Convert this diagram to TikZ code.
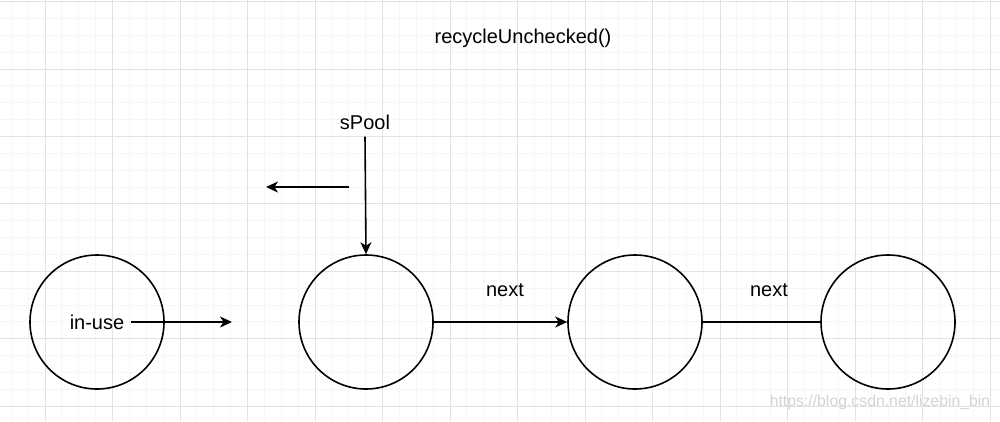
\documentclass[tikz,border=0pt]{standalone}
\usepackage{fontspec}
\setmainfont{Liberation Sans}
\usetikzlibrary{arrows.meta}
\definecolor{minorgrid}{HTML}{F6F6F6}
\definecolor{majorgrid}{HTML}{E2E2E2}
\definecolor{wmark}{HTML}{D4D4D4}
\tikzset{
  listnode/.style={draw=black, line width=1.6pt, circle, minimum size=134pt, inner sep=0pt},
  lbl/.style={inner sep=3pt, font=\fontsize{20}{24}\selectfont},
  conn/.style={line width=1.6pt},
  arr/.style={conn, -{Stealth[length=12pt, width=11pt, inset=3.5pt]}},
}
\begin{document}
\begin{tikzpicture}[x=1pt, y=-1pt]
\useasboundingbox (0,0) rectangle (1000,421);
\fill[white] (0,0) rectangle (1000,421);
% grid
\foreach \k in {-2,...,57} {
  \draw[minorgrid, line width=0.8pt] ({45+16.875*\k},0) -- ({45+16.875*\k},421);
}
\foreach \k in {0,...,25} {
  \draw[minorgrid, line width=0.8pt] (0,{1.6+16.85*\k}) -- (1000,{1.6+16.85*\k});
}
\foreach \k in {0,...,14} {
  \draw[majorgrid, line width=1pt] ({45+67.5*\k},0) -- ({45+67.5*\k},421);
}
\foreach \k in {0,...,6} {
  \draw[majorgrid, line width=1pt] (0,{1.6+67.4*\k}) -- (1000,{1.6+67.4*\k});
}
% title
\node[lbl] (title) at (523,38) {recycleUnchecked()};
% circles
\node[listnode] (c1) at (97,322) {};
\node[listnode] (c2) at (366,322) {};
\node[listnode] (c3) at (635,322) {};
\node[listnode] (c4) at (888,322) {};
% texts
\node[lbl] (inuse) at (97,322) {in-use};
\node[lbl] (spool) at (365,122) {sPool};
\node[lbl] (next1) at (505,290) {next};
\node[lbl] (next2) at (769,290) {next};
% free ends
\coordinate (inuseEnd) at (232,322);
\coordinate (leftStart) at (349,187);
\coordinate (leftEnd) at (266,187);
% connectors
\draw[arr] ([xshift=4pt]inuse.east) -- (inuseEnd);
\draw[arr] ([yshift=-4pt]spool.south) -- (c2.north);
\draw[arr] (leftStart) -- (leftEnd);
\draw[arr] (c2.east) -- (c3.west);
\draw[conn] (c3.east) -- (c4.west);
% watermark
\node[text=wmark, inner sep=0pt, font=\fontsize{15.8}{18}\selectfont] (wm) at (880,402) {https://blog.csdn.net/lizebin\_bin};
\end{tikzpicture}
\end{document}
